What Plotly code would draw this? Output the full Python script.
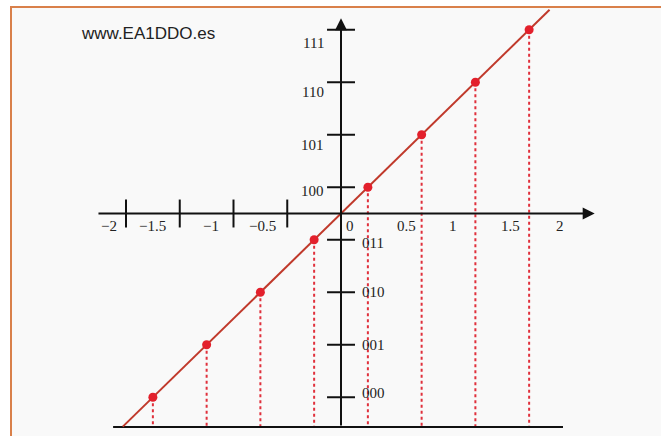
import plotly.graph_objects as go

# Uniform 3-bit quantizer: input levels, output codes and axis labels
x_levels = [-1.75, -1.25, -0.75, -0.25, 0.25, 0.75, 1.25, 1.75]
y_levels = [-1.75, -1.25, -0.75, -0.25, 0.25, 0.75, 1.25, 1.75]
codes = ["000", "001", "010", "011", "100", "101", "110", "111"]
x_tick_marks = [-2, -1.5, -1, -0.5]
x_label_values = [-2, -1.5, -1, -0.5, 0, 0.5, 1, 1.5, 2]
x_label_text = ["\u22122", "\u22121.5", "\u22121", "\u22120.5", "0", "0.5", "1", "1.5", "2"]

# Extents of the hand-drawn axes
X_AXIS = (-2.27, 2.36)
Y_AXIS = (-2.033, 1.86)
BASE = (-2.12, 2.065)
LINE_SPAN = (-2.03, 1.94)

# label nudges in pixels
x_label_shift = [-17, -27, -23, -25, 9, 12, 4, 8, 4]
code_yshift = [4, 0, 0, -3, -4, -10, -10, -13]

W, H = 661, 436
X0_PX, SX = 341, 107.5
Y0_PX, SY = 213.5, 105

BLACK = "#111111"
TEXT = "#222222"
RED = "#e3202c"
LINE_RED = "#c0392b"

fig = go.Figure()

# vertical dotted projections down to the baseline
base_y = Y_AXIS[0]
dx, dy = [], []
for xv, yv in zip(x_levels, y_levels):
    dx += [xv, xv, None]
    dy += [yv, base_y, None]
fig.add_trace(go.Scatter(x=dx, y=dy, mode="lines",
                         line=dict(color="#e0303c", width=2, dash="dot"),
                         hoverinfo="skip"))

# baseline
fig.add_trace(go.Scatter(x=list(BASE), y=[base_y, base_y], mode="lines",
                         line=dict(color=BLACK, width=2), hoverinfo="skip"))

# tick marks on the vertical axis at each code level
tx, ty = [], []
for yv in y_levels:
    tx += [-0.13, 0.13, None]
    ty += [yv, yv, None]
# tick marks on the negative horizontal axis
for xv in x_tick_marks:
    tx += [xv, xv, None]
    ty += [-0.133, 0.133, None]
fig.add_trace(go.Scatter(x=tx, y=ty, mode="lines",
                         line=dict(color=BLACK, width=2), hoverinfo="skip"))

# transfer line y = x
fig.add_trace(go.Scatter(x=list(LINE_SPAN), y=list(LINE_SPAN), mode="lines",
                         line=dict(color=LINE_RED, width=2), hoverinfo="skip"))

# quantization points
fig.add_trace(go.Scatter(x=x_levels, y=y_levels, mode="markers",
                         marker=dict(color=RED, size=9, line=dict(width=0)),
                         hoverinfo="skip"))

annotations = []
# axes with arrowheads
annotations.append(dict(x=X_AXIS[1], y=0, ax=X_AXIS[0], ay=0, xref="x", yref="y",
                        axref="x", ayref="y", text="", showarrow=True,
                        arrowhead=2, arrowsize=1.2, arrowwidth=2, arrowcolor=BLACK,
                        standoff=0))
annotations.append(dict(x=0, y=Y_AXIS[1], ax=0, ay=Y_AXIS[0], xref="x", yref="y",
                        axref="x", ayref="y", text="", showarrow=True,
                        arrowhead=2, arrowsize=1.2, arrowwidth=2, arrowcolor=BLACK,
                        standoff=0))

serif = dict(family="Liberation Serif, Times New Roman, serif", size=15, color=TEXT)

for xv, txt, sh in zip(x_label_values, x_label_text, x_label_shift):
    annotations.append(dict(x=xv, y=0, xref="x", yref="y", text=txt, showarrow=False,
                            xanchor="center", yanchor="middle", xshift=sh, yshift=-12,
                            font=serif))

for yv, code, sh in zip(y_levels, codes, code_yshift):
    if yv > 0:
        annotations.append(dict(x=0, y=yv, xref="x", yref="y", text=code, showarrow=False,
                                xanchor="right", yanchor="middle", xshift=-15, yshift=sh,
                                font=serif))
    else:
        annotations.append(dict(x=0, y=yv, xref="x", yref="y", text=code, showarrow=False,
                                xanchor="left", yanchor="middle", xshift=19, yshift=sh,
                                font=serif))

annotations.append(dict(x=79 / W, y=1 - 34 / H, xref="paper", yref="paper",
                        text="www.EA1DDO.es", showarrow=False, xanchor="left",
                        yanchor="middle",
                        font=dict(family="Liberation Sans, Arial, sans-serif",
                                  size=17, color=TEXT)))

fig.update_layout(
    width=W, height=H,
    margin=dict(l=0, r=0, t=0, b=0),
    paper_bgcolor="white",
    plot_bgcolor="rgba(0,0,0,0)",
    showlegend=False,
    xaxis=dict(range=[-X0_PX / SX, (W - X0_PX) / SX], visible=False, fixedrange=True),
    yaxis=dict(range=[-(H - Y0_PX) / SY, Y0_PX / SY], visible=False, fixedrange=True),
    annotations=annotations,
    shapes=[dict(type="rect", xref="paper", yref="paper",
                 x0=11 / W, x1=1.02, y0=-0.02, y1=1 - 7 / H,
                 fillcolor="#f9f9f9", line=dict(color="#d9804a", width=2),
                 layer="below")],
)

fig.write_html("out.html")
